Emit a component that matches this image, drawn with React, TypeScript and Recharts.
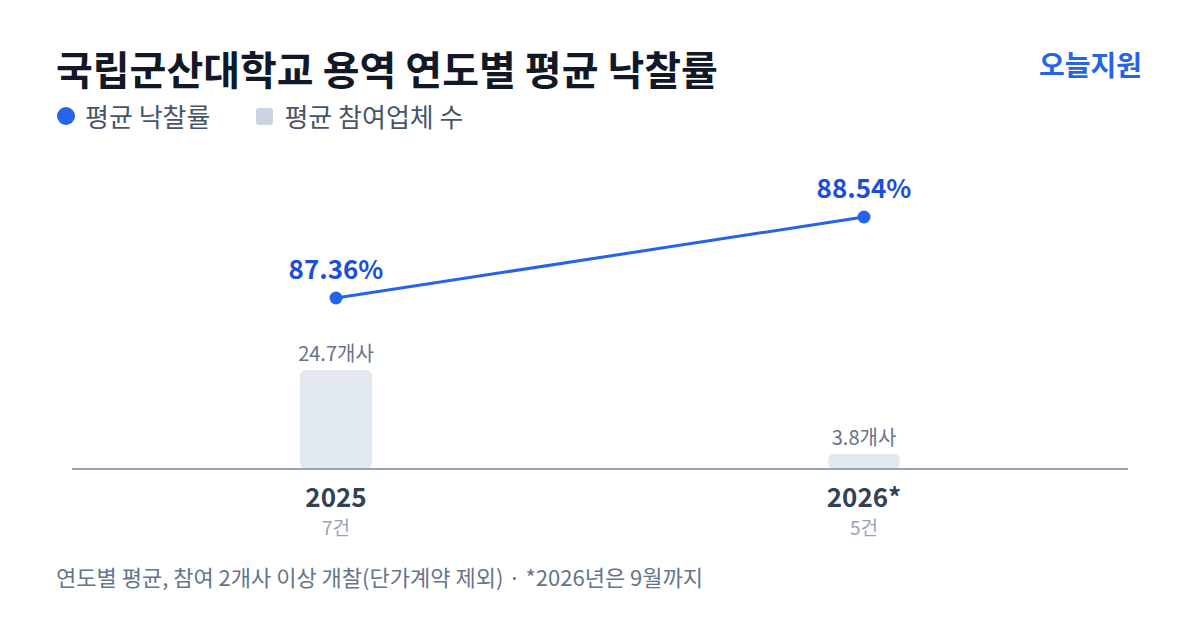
import React from 'react';
import { ComposedChart, Bar, Line, XAxis, YAxis, LabelList } from 'recharts';

const years = ['2025', '2026*'];
const caseCounts = ['7건', '5건'];
const avgWinRate = [87.36, 88.54];
const avgBidders = [24.7, 3.8];

const FONT = '"Noto Sans CJK KR", "Noto Sans", sans-serif';
const BLUE = '#2563eb';

const data = years.map((year, i) => ({
  year,
  cases: caseCounts[i],
  rate: avgWinRate[i],
  bidders: avgBidders[i],
}));

function YearTick(props: any) {
  const { x, y, payload, index } = props;
  return (
    <g>
      <text x={x} y={y + 38} textAnchor="middle" fontSize={26} fontWeight={700} fill="#334155" fontFamily={FONT}>
        {payload.value}
      </text>
      <text x={x} y={y + 66} textAnchor="middle" fontSize={19} fill="#94a3b8" fontFamily={FONT}>
        {caseCounts[index]}
      </text>
    </g>
  );
}

export default function App() {
  return (
    <div
      style={{
        position: 'fixed',
        left: 0,
        top: 0,
        width: 1200,
        height: 630,
        background: '#fff',
        fontFamily: FONT,
        overflow: 'hidden',
      }}
    >
      <div style={{ position: 'absolute', left: 56, top: 40, fontSize: 40, fontWeight: 700, color: '#111827', lineHeight: '56px', whiteSpace: 'nowrap' }}>
        국립군산대학교 용역 연도별 평균 낙찰률
      </div>
      <div style={{ position: 'absolute', right: 58, top: 45, fontSize: 28, fontWeight: 700, color: BLUE, lineHeight: '38px' }}>
        오늘지원
      </div>
      <div style={{ position: 'absolute', left: 57, top: 99, display: 'flex', alignItems: 'center', fontSize: 26, color: '#475569', lineHeight: '34px', whiteSpace: 'nowrap' }}>
        <span style={{ width: 18, height: 18, borderRadius: 9, background: BLUE, marginRight: 10 }} />
        <span>평균 낙찰률</span>
        <span style={{ width: 17, height: 17, borderRadius: 3, background: '#cbd5e1', marginLeft: 46, marginRight: 11 }} />
        <span>평균 참여업체 수</span>
      </div>

      <ComposedChart
        width={1200}
        height={630}
        data={data}
        margin={{ top: 160, right: 72, bottom: 101, left: 72 }}
        style={{ position: 'absolute', left: 0, top: 0 }}
      >
        <XAxis
          dataKey="year"
          height={60}
          tickLine={false}
          tickSize={0}
          tickMargin={0}
          axisLine={{ stroke: '#94a3b8', strokeWidth: 2 }}
          tick={<YearTick />}
          interval={0}
        />
        <YAxis yAxisId="cnt" hide domain={[0, 77]} />
        <YAxis yAxisId="rate" hide domain={[84.87, 89.37]} />
        <Bar yAxisId="cnt" dataKey="bidders" barSize={72} fill="#e2e8f0" radius={6} isAnimationActive={false}>
          <LabelList
            dataKey="bidders"
            position="top"
            offset={9}
            formatter={(v: any) => `${v}개사`}
            fill="#64748b"
            fontSize={20}
            fontFamily={FONT}
          />
        </Bar>
        <Line
          yAxisId="rate"
          dataKey="rate"
          stroke={BLUE}
          strokeWidth={3}
          dot={{ r: 6.5, fill: BLUE, stroke: 'none' }}
          activeDot={false}
          isAnimationActive={false}
        >
          <LabelList
            dataKey="rate"
            position="top"
            offset={19}
            formatter={(v: any) => `${Number(v).toFixed(2)}%`}
            fill="#1d4ed8"
            fontSize={26}
            fontWeight={700}
            fontFamily={FONT}
          />
        </Line>
      </ComposedChart>

      <div style={{ position: 'absolute', left: 56, top: 561, fontSize: 22, color: '#64748b', lineHeight: '30px', whiteSpace: 'nowrap' }}>
        연도별 평균, 참여 2개사 이상 개찰(단가계약 제외) · *2026년은 9월까지
      </div>
    </div>
  );
}
